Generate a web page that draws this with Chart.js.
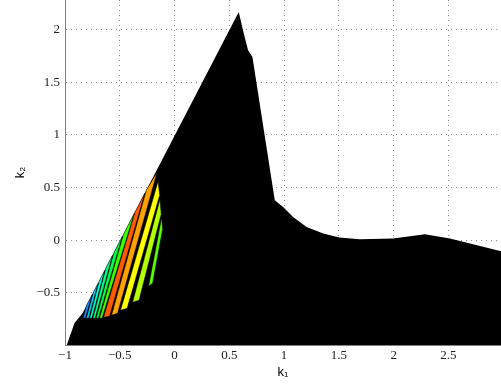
<!DOCTYPE html>
<html>
<head>
<meta charset="utf-8">
<script src="https://cdn.jsdelivr.net/npm/chart.js"></script>
<style>
  html, body { margin: 0; padding: 0; background: #fff; }
  #wrap { width: 501px; height: 392px; }
</style>
</head>
<body>
<div id="wrap"><canvas id="chart" width="501" height="392"></canvas></div>
<script>
// axis ticks
const xTicks = [-1, -0.5, 0, 0.5, 1, 1.5, 2, 2.5];
const yTicks = [-0.5, 0, 0.5, 1, 1.5, 2];

// upper outline of the black region (filled down to the bottom)
const regionX = [-0.985, -0.959, -0.936, -0.913, -0.840, 0.586, 0.625, 0.671, 0.711, 0.915, 0.954, 0.991,
                 1.082, 1.205, 1.357, 1.503, 1.692, 1.996, 2.286, 2.514, 2.972, 3.0];
const regionY = [-1.0, -0.922, -0.856, -0.787, -0.693, 2.166, 1.993, 1.803, 1.740, 0.379, 0.346, 0.315,
                 0.220, 0.125, 0.063, 0.025, 0.008, 0.015, 0.056, 0.015, -0.103, -0.11];

// coloured stripes, corners: bottom-left, bottom-right, top-right, top-left
const stripeX = [
  [-0.835, -0.815, -0.751, -0.803],
  [-0.805, -0.785, -0.698, -0.741],
  [-0.775, -0.755, -0.637, -0.689],
  [-0.745, -0.725, -0.566, -0.628],
  [-0.715, -0.695, -0.476, -0.556],
  [-0.685, -0.662, -0.367, -0.466],
  [-0.648, -0.593, -0.272, -0.362],
  [-0.575, -0.520, -0.159, -0.258],
  [-0.493, -0.433, -0.136, -0.150],
  [-0.383, -0.324, -0.122, -0.133],
  [-0.237, -0.200, -0.109, -0.118]
];
const stripeY = [
  [-0.742, -0.742, -0.514, -0.618],
  [-0.742, -0.742, -0.409, -0.495],
  [-0.742, -0.742, -0.286, -0.390],
  [-0.742, -0.742, -0.143, -0.267],
  [-0.742, -0.742, 0.037, -0.124],
  [-0.742, -0.742, 0.255, 0.056],
  [-0.732, -0.723, 0.445, 0.265],
  [-0.713, -0.694, 0.645, 0.474],
  [-0.666, -0.647, 0.426, 0.559],
  [-0.590, -0.571, 0.246, 0.388],
  [-0.438, -0.409, 0.103, 0.217]
];
const stripeColors = ['#1a8cff', '#00d8ff', '#00ffd0', '#00ff90', '#00ff48', '#3cff00',
                      '#ff5a00', '#ffa200', '#ffff00', '#b4ff00', '#5aff00'];

const fmt = v => (v < 0 ? '\u2212' + Math.abs(v) : String(v));

// stripes first: lower dataset index is painted on top
const datasets = [];
stripeX.forEach((xs, s) => {
  const pts = xs.map((x, i) => ({ x: x, y: stripeY[s][i] }));
  pts.push(pts[0]);
  datasets.push({
    data: pts,
    borderWidth: 0.5,
    borderColor: '#000',
    backgroundColor: stripeColors[s],
    fill: 'shape',
    pointRadius: 0,
    tension: 0
  });
});

datasets.push({
  data: regionX.map((x, i) => ({ x: x, y: regionY[i] })),
  borderColor: '#000',
  borderWidth: 0,
  backgroundColor: '#000',
  fill: 'start',
  pointRadius: 0,
  tension: 0
});

const gridOpts = { color: 'rgba(0,0,0,0.45)', lineWidth: 1, drawTicks: false };
const tickFont = { family: "'Liberation Serif', 'Times New Roman', serif", size: 13 };
const titleFont = { family: "'Liberation Sans', 'DejaVu Sans', sans-serif", size: 13 };

new Chart(document.getElementById('chart').getContext('2d'), {
  type: 'line',
  data: { datasets: datasets },
  options: {
    responsive: false,
    animation: false,
    events: [],
    layout: { padding: 0 },
    plugins: { legend: { display: false }, tooltip: { enabled: false } },
    scales: {
      x: {
        type: 'linear',
        min: -1,
        max: 2.98,
        grid: gridOpts,
        border: { display: true, color: '#808080', width: 1, dash: [1, 4] },
        afterBuildTicks: s => { s.ticks = xTicks.map(v => ({ value: v })); },
        afterFit: s => { s.height = 47; s.paddingLeft = 0; s.paddingRight = 0; },
        ticks: {
          callback: fmt,
          padding: 3,
          maxRotation: 0,
          autoSkip: false,
          color: '#222',
          font: tickFont
        },
        title: {
          display: true,
          text: 'k\u2081',
          color: '#000',
          padding: 12,
          font: titleFont
        }
      },
      y: {
        type: 'linear',
        min: -0.995,
        max: 2.28,
        grid: gridOpts,
        border: { display: true, color: '#808080', width: 1, dash: [1, 4] },
        afterBuildTicks: s => { s.ticks = yTicks.map(v => ({ value: v })); },
        afterFit: s => { s.width = 65; s.paddingTop = 0; s.paddingBottom = 0; },
        ticks: {
          callback: fmt,
          padding: 5,
          autoSkip: false,
          color: '#222',
          font: tickFont
        },
        title: {
          display: true,
          text: 'k\u2082',
          color: '#000',
          padding: 13,
          font: titleFont
        }
      }
    }
  }
});
</script>
</body>
</html>
